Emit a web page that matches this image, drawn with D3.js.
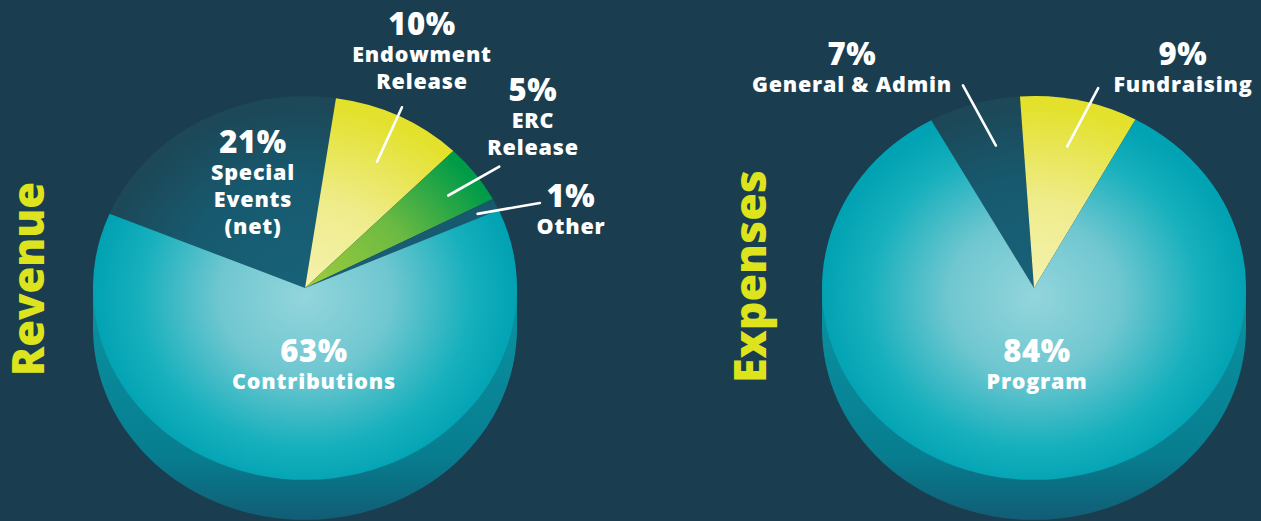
<!DOCTYPE html>
<html>
<head>
<meta charset="utf-8">
<script src="https://cdnjs.cloudflare.com/ajax/libs/d3/7.8.5/d3.min.js"></script>
<style>
html, body { margin: 0; padding: 0; background: #1a3e4f; }
svg { display: block; }
.lbl { font-family: 'Open Sans', 'DejaVu Sans', sans-serif; font-weight: 800; fill: #ffffff; text-anchor: middle; }
.title { font-family: 'Open Sans', 'DejaVu Sans', sans-serif; font-weight: 800; fill: #dde41e; }
</style>
</head>
<body>
<div class="chart"></div>
<script>
// data
var revenueNames = ["Special Events (net)", "Endowment Release", "ERC Release", "Other", "Contributions"];
var revenueValues = [21, 10, 5, 1, 63];
var revenueLines = [["Special", "Events", "(net)"], ["Endowment", "Release"], ["ERC", "Release"], ["Other"], ["Contributions"]];

var expenseNames = ["General & Admin", "Fundraising", "Program"];
var expenseValues = [7, 9, 84];
var expenseLines = [["General & Admin"], ["Fundraising"], ["Program"]];

var W = 1261, H = 521;
var R = 212, SY = 0.905, DEPTH = 40;

var svg = d3.select(".chart").append("svg")
    .attr("width", W)
    .attr("height", H);

svg.append("rect").attr("width", W).attr("height", H).attr("fill", "#1a3e4f");

var defs = svg.append("defs");

function radial(id, stops) {
    var g = defs.append("radialGradient").attr("id", id)
        .attr("gradientUnits", "userSpaceOnUse")
        .attr("cx", 0).attr("cy", 10).attr("r", R);
    stops.forEach(function (s) {
        g.append("stop").attr("offset", s[0]).attr("stop-color", s[1]);
    });
}
radial("g-teal", [[0, "#93d5dc"], [0.4, "#70c7d0"], [0.78, "#17b0bd"], [1, "#01a2b3"]]);
radial("g-dark", [[0, "#176279"], [0.6, "#175a6f"], [1, "#1c4858"]]);
radial("g-other", [[0, "#176279"], [1, "#17586d"]]);
radial("g-yellow", [[0, "#f5f2b2"], [0.5, "#efec8c"], [1, "#e3e12b"]]);
radial("g-green", [[0, "#a3cd3b"], [0.55, "#6cba42"], [1, "#009b48"]]);

var rim = defs.append("linearGradient").attr("id", "g-rim")
    .attr("x1", 0).attr("y1", 0).attr("x2", 0).attr("y2", 1);
rim.append("stop").attr("offset", 0).attr("stop-color", "#0a93a3");
rim.append("stop").attr("offset", 0.72).attr("stop-color", "#077e90");
rim.append("stop").attr("offset", 1).attr("stop-color", "#115d75");

var revenueFills = ["url(#g-dark)", "url(#g-yellow)", "url(#g-green)", "url(#g-other)", "url(#g-teal)"];
var expenseFills = ["url(#g-dark)", "url(#g-yellow)", "url(#g-teal)"];

var deg = Math.PI / 180;

// label layout: x, first baseline, leader [angle0, r0, angle1, r1] (degrees / px)
var revenueLayout = [
    {x: 253, y: 153, leader: null},
    {x: 422, y: 35, leader: [27.3, 157, 25.9, 222]},
    {x: 533, y: 101, leader: [54.5, 176, 55.4, 236]},
    {x: 571, y: 207, leader: [64.6, 191, 68.2, 253]},
    {x: 314, y: 362, leader: null}
];
var expenseLayout = [
    {x: 852, y: 65, leader: [-13.6, 162, -17.6, 235]},
    {x: 1183, y: 65, leader: [12, 160, 16.2, 230]},
    {x: 1037, y: 362, leader: null}
];

function drawPie(cx, cy, values, fills, lines, layout, startDeg) {
    var g = svg.append("g").attr("transform", "translate(" + cx + "," + cy + ")");

    // side of the disc
    var ry = R * SY;
    g.append("path")
        .attr("d", "M" + (-R) + ",0 L" + (-R) + "," + DEPTH +
            " A" + R + "," + ry + " 0 0 0 " + R + "," + DEPTH +
            " L" + R + ",0 Z")
        .attr("fill", "url(#g-rim)");

    var face = g.append("g").attr("transform", "scale(1," + SY + ")");
    var pie = d3.pie().sort(null).value(function (d) { return d; })
        .startAngle(startDeg * deg).endAngle(startDeg * deg + 2 * Math.PI);
    var arc = d3.arc().innerRadius(0).outerRadius(R);

    face.selectAll("path.slice")
        .data(pie(values))
        .enter().append("path")
        .attr("class", "slice")
        .attr("d", arc)
        .attr("fill", function (d, i) { return fills[i]; });

    function pt(a, r) {
        return [cx + r * Math.sin(a * deg), cy - r * Math.cos(a * deg) * SY];
    }

    layout.forEach(function (L, i) {
        if (L.leader) {
            var p0 = pt(L.leader[0], L.leader[1]), p1 = pt(L.leader[2], L.leader[3]);
            svg.append("line")
                .attr("x1", p0[0]).attr("y1", p0[1])
                .attr("x2", p1[0]).attr("y2", p1[1])
                .attr("stroke", "#ffffff").attr("stroke-width", 2.6)
                .attr("stroke-linecap", "round");
        }
        svg.append("text").attr("class", "lbl")
            .attr("x", L.x).attr("y", L.y)
            .attr("font-size", 31).attr("letter-spacing", 0.6)
            .text(values[i] + "%");
        lines[i].forEach(function (s, j) {
            svg.append("text").attr("class", "lbl")
                .attr("x", L.x).attr("y", L.y + 27 * (j + 1))
                .attr("font-size", 21.5).attr("letter-spacing", 0.8)
                .text(s);
        });
    });
}

drawPie(305, 288, revenueValues, revenueFills, revenueLines, revenueLayout, -67.2);
drawPie(1034, 288, expenseValues, expenseFills, expenseLines, expenseLayout, -29);

// side titles
svg.append("text").attr("class", "title")
    .attr("transform", "translate(44,376) rotate(-90)")
    .attr("font-size", 45)
    .attr("textLength", 194).attr("lengthAdjust", "spacingAndGlyphs")
    .text("Revenue");
svg.append("text").attr("class", "title")
    .attr("transform", "translate(766,383) rotate(-90)")
    .attr("font-size", 45)
    .attr("textLength", 213).attr("lengthAdjust", "spacingAndGlyphs")
    .text("Expenses");
</script>
</body>
</html>
